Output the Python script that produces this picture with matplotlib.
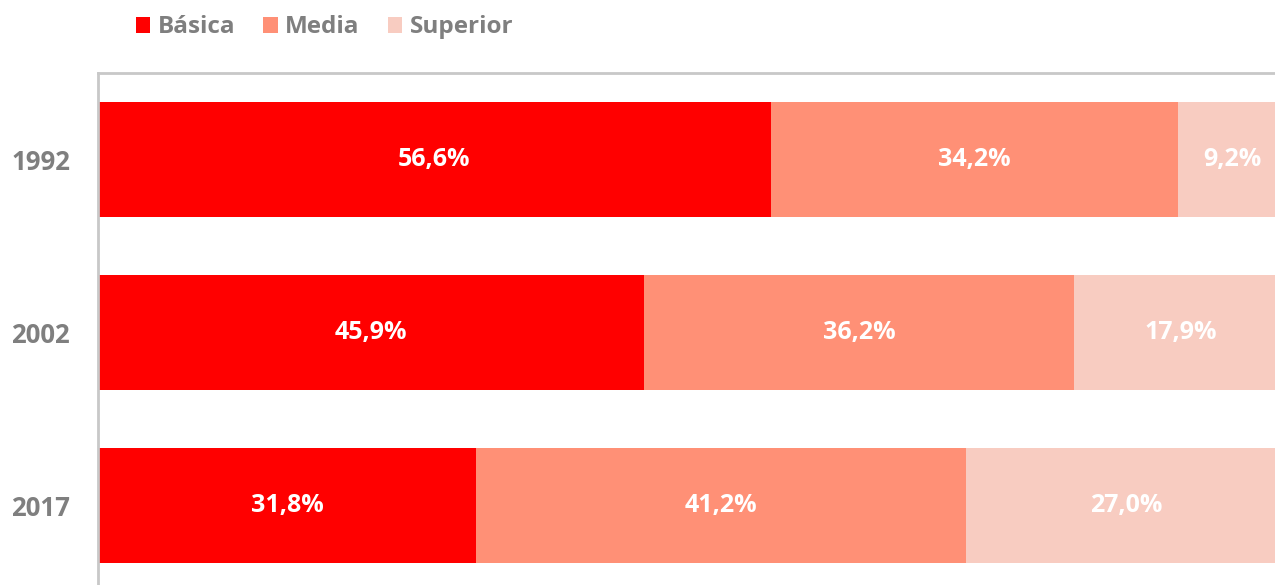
import matplotlib
matplotlib.use('Agg')
import matplotlib.pyplot as plt
import numpy as np

plt.rcParams['font.family'] = ['Open Sans', 'DejaVu Sans']

years = ['1992', '2002', '2017']
series = ['Básica', 'Media', 'Superior']
basica = [56.6, 45.9, 31.8]
media = [34.2, 36.2, 41.2]
superior = [9.2, 17.9, 27.0]

COLORS = ['#FF0000', '#FF9076', '#F8CCC1']
GREY = '#7F7F7F'

fig = plt.figure(figsize=(12.75, 5.85), dpi=100)
ax = fig.add_axes([98 / 1275, 0, 1 - 98 / 1275, 1 - 73 / 585])

y = np.arange(len(years))
left = np.zeros(len(years))
for name, vals, col in zip(series, [basica, media, superior], COLORS):
    vals = np.array(vals)
    ax.barh(y, vals, left=left, height=0.665, color=col, label=name)
    for yi, l, v in zip(y, left, vals):
        ax.text(l + v / 2, yi, f'{v:.1f}%'.replace('.', ','), ha='center', va='center',
                color='white', fontsize=18, fontweight='bold')
    left += vals

ax.set_xlim(0, 99)
ax.set_ylim(2.457, -0.5)
ax.set_yticks(y)
ax.set_yticklabels(years, fontsize=18.5, fontweight='bold', color=GREY)
ax.tick_params(axis='y', length=0, pad=20)
ax.set_xticks([])
for s in ['right', 'bottom']:
    ax.spines[s].set_visible(False)
for s in ['left', 'top']:
    ax.spines[s].set_color('#C8C8C8')
    ax.spines[s].set_linewidth(2)

leg = fig.legend(loc='upper left', bbox_to_anchor=(114 / 1275, 1.011), ncol=3, frameon=False,
                 handlelength=0.6, handleheight=0.6, handletextpad=0.3, columnspacing=1.15,
                 prop={'size': 17.5, 'weight': 'bold'})
for t in leg.get_texts():
    t.set_color(GREY)

fig.savefig('out.png', dpi=100)
